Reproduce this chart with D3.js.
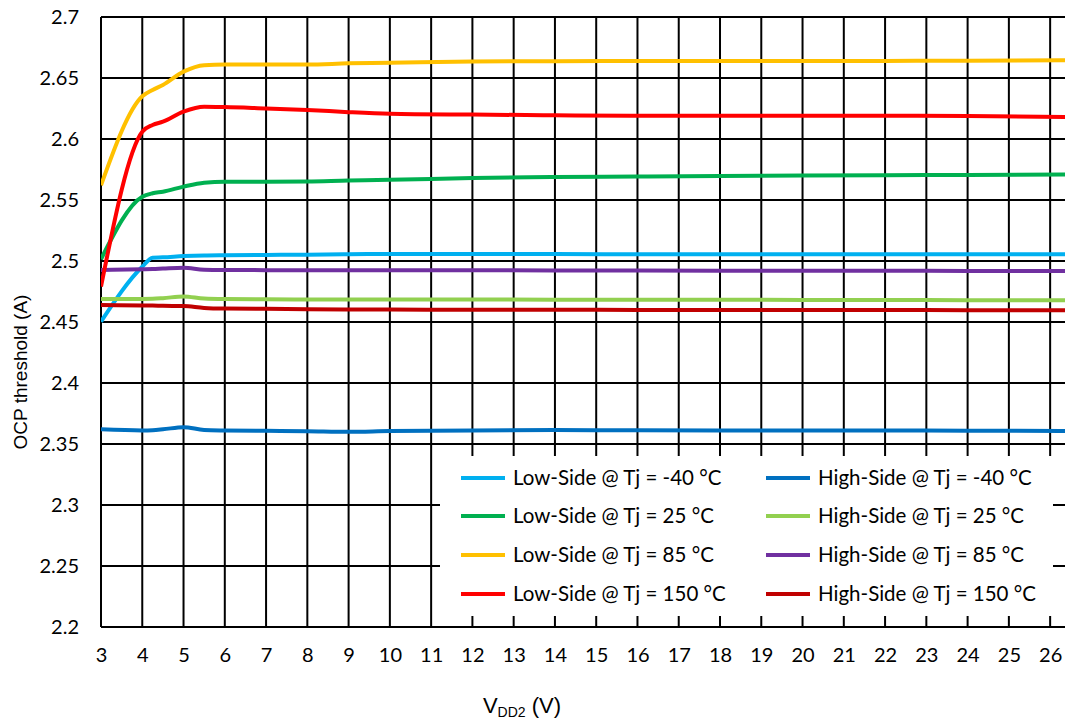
<!DOCTYPE html>
<html>
<head>
<meta charset="utf-8">
<script src="https://cdn.jsdelivr.net/npm/d3@7/dist/d3.min.js"></script>
<style>
  html, body { margin: 0; padding: 0; background: #fff; }
  svg { display: block; }
</style>
</head>
<body>
<svg id="chart" width="1066" height="722"></svg>
<script>
// Supply voltage sweep points (V)
const vdd = [3, 4, 4.25, 4.5, 5, 5.5, 6, 7, 8, 9, 10, 12, 14, 16, 18, 20, 22, 24, 26.4];

// OCP threshold (A) per side / junction temperature
const lowSideM40  = [2.4503, 2.4953, 2.5027, 2.5030, 2.5040, 2.5046, 2.5048, 2.5050, 2.5052, 2.5055, 2.5058, 2.5058, 2.5057, 2.5055, 2.5055, 2.5055, 2.5055, 2.5055, 2.5055];
const lowSide25   = [2.5014, 2.5527, 2.5555, 2.5568, 2.5610, 2.5642, 2.5650, 2.5650, 2.5652, 2.5660, 2.5665, 2.5680, 2.5688, 2.5693, 2.5697, 2.5700, 2.5703, 2.5705, 2.5710];
const lowSide85   = [2.5620, 2.6350, 2.6402, 2.6443, 2.6552, 2.6605, 2.6610, 2.6610, 2.6610, 2.6620, 2.6625, 2.6635, 2.6638, 2.6640, 2.6640, 2.6640, 2.6640, 2.6642, 2.6645];
const lowSide150  = [2.4790, 2.6060, 2.6115, 2.6142, 2.6225, 2.6265, 2.6262, 2.6250, 2.6238, 2.6220, 2.6207, 2.6200, 2.6195, 2.6190, 2.6190, 2.6190, 2.6190, 2.6188, 2.6180];
const highSideM40 = [2.3620, 2.3611, 2.3613, 2.3620, 2.3638, 2.3615, 2.3611, 2.3608, 2.3605, 2.3600, 2.3606, 2.3610, 2.3614, 2.3613, 2.3611, 2.3610, 2.3610, 2.3609, 2.3607];
const highSide25  = [2.4689, 2.4689, 2.4690, 2.4695, 2.4710, 2.4692, 2.4688, 2.4686, 2.4685, 2.4684, 2.4685, 2.4684, 2.4683, 2.4683, 2.4682, 2.4681, 2.4680, 2.4679, 2.4678];
const highSide85  = [2.4926, 2.4932, 2.4934, 2.4938, 2.4945, 2.4928, 2.4926, 2.4925, 2.4925, 2.4925, 2.4925, 2.4924, 2.4923, 2.4922, 2.4921, 2.4920, 2.4920, 2.4919, 2.4918];
const highSide150 = [2.4639, 2.4636, 2.4635, 2.4633, 2.4631, 2.4615, 2.4610, 2.4608, 2.4605, 2.4603, 2.4602, 2.4600, 2.4600, 2.4599, 2.4599, 2.4598, 2.4598, 2.4597, 2.4596];

const xTicks = d3.range(3, 27, 1);
const yTicks = [2.2, 2.25, 2.3, 2.35, 2.4, 2.45, 2.5, 2.55, 2.6, 2.65, 2.7];

// Legend order: two columns, four rows
const series = [
  { name: "Low-Side @ Tj = -40 °C",  values: lowSideM40,  color: "#00B0F0", col: 0, row: 0 },
  { name: "High-Side @ Tj = -40 °C", values: highSideM40, color: "#0070C0", col: 1, row: 0 },
  { name: "Low-Side @ Tj = 25 °C",   values: lowSide25,   color: "#00B050", col: 0, row: 1 },
  { name: "High-Side @ Tj = 25 °C",  values: highSide25,  color: "#92D050", col: 1, row: 1 },
  { name: "Low-Side @ Tj = 85 °C",   values: lowSide85,   color: "#FFC000", col: 0, row: 2 },
  { name: "High-Side @ Tj = 85 °C",  values: highSide85,  color: "#7030A0", col: 1, row: 2 },
  { name: "Low-Side @ Tj = 150 °C",  values: lowSide150,  color: "#FF0000", col: 0, row: 3 },
  { name: "High-Side @ Tj = 150 °C", values: highSide150, color: "#C00000", col: 1, row: 3 }
];

const svg = d3.select("#chart");
const margin = { left: 101, top: 17, right: 1, bottom: 95 };
const W = 1066 - margin.left - margin.right;
const H = 722 - margin.top - margin.bottom;

const x = d3.scaleLinear().domain([3, 26.36]).range([0, W]);
const y = d3.scaleLinear().domain([2.2, 2.7]).range([H, 0]);

const g = svg.append("g").attr("transform", `translate(${margin.left},${margin.top})`);

svg.append("defs").append("clipPath").attr("id", "plot-clip")
  .append("rect").attr("x", 0).attr("y", -3).attr("width", W).attr("height", H + 6);

const tickFont = "Lato, 'Open Sans', sans-serif";

// Gridlines
g.append("g").attr("class", "grid-x")
  .selectAll("line").data(xTicks).join("line")
  .attr("x1", d => x(d)).attr("x2", d => x(d))
  .attr("y1", 0).attr("y2", H)
  .attr("stroke", "#000").attr("stroke-width", 2);

g.append("g").attr("class", "grid-y")
  .selectAll("line").data(yTicks).join("line")
  .attr("x1", 0).attr("x2", W)
  .attr("y1", d => y(d)).attr("y2", d => y(d))
  .attr("stroke", "#000").attr("stroke-width", 2);

// Plot frame (left and bottom axis lines)
g.append("line").attr("x1", 0).attr("x2", 0).attr("y1", 0).attr("y2", H)
  .attr("stroke", "#000").attr("stroke-width", 2);
g.append("line").attr("x1", 0).attr("x2", W).attr("y1", H).attr("y2", H)
  .attr("stroke", "#000").attr("stroke-width", 2);

// Axes (labels only; grid already drawn)
const xAxis = g.append("g").attr("transform", `translate(0,${H})`)
  .call(d3.axisBottom(x).tickValues(xTicks).tickSize(0).tickPadding(21).tickFormat(d3.format("d")));
const yAxis = g.append("g")
  .call(d3.axisLeft(y).tickValues(yTicks).tickSize(0).tickPadding(22).tickFormat(d => String(+d.toFixed(2))));
[xAxis, yAxis].forEach(a => {
  a.select(".domain").remove();
  a.selectAll("text").attr("font-family", tickFont).attr("font-size", 20).attr("fill", "#000");
});

// Series lines
const line = d3.line()
  .x((d, i) => x(vdd[i]))
  .y(d => y(d))
  .curve(d3.curveMonotoneX);

g.append("g").attr("clip-path", "url(#plot-clip)")
  .selectAll("path").data(series).join("path")
  .attr("d", s => line(s.values))
  .attr("fill", "none")
  .attr("stroke", s => s.color)
  .attr("stroke-width", 4)
  .attr("stroke-linejoin", "round");

// Legend box
const leg = { x0: 440 - margin.left, y0: 456 - margin.top, w: 613, h: 160 };
const legend = g.append("g");
legend.append("rect")
  .attr("x", leg.x0).attr("y", leg.y0).attr("width", leg.w).attr("height", leg.h)
  .attr("fill", "#fff");

const colX = [461 - margin.left, 766 - margin.left];
const rowY = [478, 516, 555, 594].map(v => v - margin.top);
const item = legend.selectAll("g.item").data(series).join("g")
  .attr("class", "item")
  .attr("transform", s => `translate(${colX[s.col]},${rowY[s.row]})`);
item.append("line")
  .attr("x1", 0).attr("x2", 44).attr("y1", 0).attr("y2", 0)
  .attr("stroke", s => s.color).attr("stroke-width", 4);
item.append("text")
  .attr("x", 52).attr("y", 0).attr("dy", "0.35em")
  .attr("font-family", tickFont).attr("font-size", 20.5).attr("fill", "#000")
  .text(s => s.name);

// Axis titles
const xTitle = svg.append("text")
  .attr("x", 522).attr("y", 713)
  .attr("text-anchor", "middle")
  .attr("font-family", "'Liberation Sans', Arial, sans-serif")
  .attr("font-size", 22).attr("fill", "#000");
xTitle.append("tspan").text("V");
xTitle.append("tspan").attr("font-size", 14).attr("dy", 4).text("DD2");
xTitle.append("tspan").attr("dy", -4).text(" (V)");

svg.append("text")
  .attr("transform", "translate(27,372) rotate(-90)")
  .attr("text-anchor", "middle")
  .attr("font-family", "'Liberation Sans', Arial, sans-serif")
  .attr("font-size", 19).attr("fill", "#000")
  .text("OCP threshold (A)");
</script>
</body>
</html>
